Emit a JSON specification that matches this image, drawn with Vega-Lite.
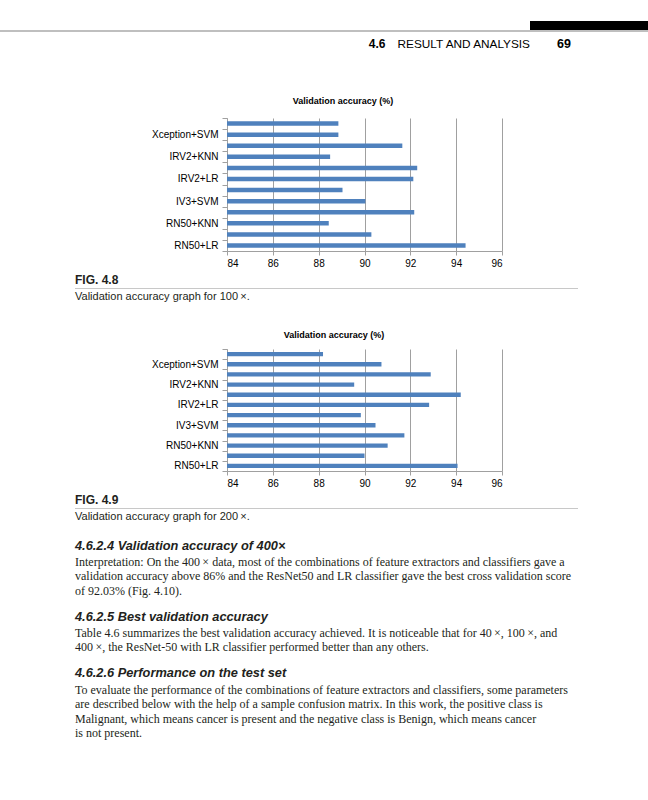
{
  "$schema": "https://vega.github.io/schema/vega-lite/v6.json",
  "background": "white",
  "padding": {"left": 0, "top": 21, "right": 0, "bottom": 58},
  "spacing": 0,
  "bounds": "flush",
  "config": {"view": {"stroke": null}, "font": "Liberation Sans", "text": {"color": "#231f20"}},
  "datasets": {
    "acc": [
      {"mag": "100x", "model": "RN50+LR", "acc": 94.41},
      {"mag": "100x", "model": "RN50+SVM", "acc": 90.30},
      {"mag": "100x", "model": "RN50+KNN", "acc": 88.44},
      {"mag": "100x", "model": "IV3+LR", "acc": 92.17},
      {"mag": "100x", "model": "IV3+SVM", "acc": 90.04},
      {"mag": "100x", "model": "IV3+KNN", "acc": 89.04},
      {"mag": "100x", "model": "IRV2+LR", "acc": 92.13},
      {"mag": "100x", "model": "IRV2+SVM", "acc": 92.30},
      {"mag": "100x", "model": "IRV2+KNN", "acc": 88.50},
      {"mag": "100x", "model": "Xception+LR", "acc": 91.65},
      {"mag": "100x", "model": "Xception+SVM", "acc": 88.86},
      {"mag": "100x", "model": "Xception+KNN", "acc": 88.86},
      {"mag": "200x", "model": "RN50+LR", "acc": 94.06},
      {"mag": "200x", "model": "RN50+SVM", "acc": 90.00},
      {"mag": "200x", "model": "RN50+KNN", "acc": 91.01},
      {"mag": "200x", "model": "IV3+LR", "acc": 91.74},
      {"mag": "200x", "model": "IV3+SVM", "acc": 90.48},
      {"mag": "200x", "model": "IV3+KNN", "acc": 89.84},
      {"mag": "200x", "model": "IRV2+LR", "acc": 92.82},
      {"mag": "200x", "model": "IRV2+SVM", "acc": 94.20},
      {"mag": "200x", "model": "IRV2+KNN", "acc": 89.55},
      {"mag": "200x", "model": "Xception+LR", "acc": 92.89},
      {"mag": "200x", "model": "Xception+SVM", "acc": 90.74},
      {"mag": "200x", "model": "Xception+KNN", "acc": 88.19}
    ],
    "pagetext": [
      {"part": "sec", "line": 0, "text": "4.6"},
      {"part": "run", "line": 0, "text": "RESULT AND ANALYSIS"},
      {"part": "page", "line": 0, "text": "69"},
      {"part": "fig1", "line": 0, "text": "FIG. 4.8"},
      {"part": "cap1", "line": 0, "text": "Validation accuracy graph for 100\u2009×."},
      {"part": "fig2", "line": 0, "text": "FIG. 4.9"},
      {"part": "cap2", "line": 0, "text": "Validation accuracy graph for 200\u2009×."},
      {"part": "h1", "line": 0, "text": "4.6.2.4 Validation accuracy of 400×"},
      {"part": "b1", "line": 0, "text": "Interpretation: On the 400\u2009× data, most of the combinations of feature extractors and classifiers gave a"},
      {"part": "b1", "line": 1, "text": "validation accuracy above 86% and the ResNet50 and LR classifier gave the best cross validation score"},
      {"part": "b1", "line": 2, "text": "of 92.03% (Fig. 4.10)."},
      {"part": "h2", "line": 0, "text": "4.6.2.5 Best validation accuracy"},
      {"part": "b2", "line": 0, "text": "Table 4.6 summarizes the best validation accuracy achieved. It is noticeable that for 40\u2009×, 100\u2009×, and"},
      {"part": "b2", "line": 1, "text": "400\u2009×, the ResNet-50 with LR classifier performed better than any others."},
      {"part": "h3", "line": 0, "text": "4.6.2.6 Performance on the test set"},
      {"part": "b3", "line": 0, "text": "To evaluate the performance of the combinations of feature extractors and classifiers, some parameters"},
      {"part": "b3", "line": 1, "text": "are described below with the help of a sample confusion matrix. In this work, the positive class is"},
      {"part": "b3", "line": 2, "text": "Malignant, which means cancer is present and the negative class is Benign, which means cancer"},
      {"part": "b3", "line": 3, "text": "is not present."}
    ]
  },
  "vconcat": [
    {"width": 648, "height": 9, "data": {"values": [{}]}, "mark": {"type": "rect", "color": "#000000"},
     "encoding": {"x": {"datum": 0, "type": "quantitative", "scale": {"domain": [0, 1], "range": [530, 648]}, "axis": null},
                  "x2": {"datum": 1}}},
    {"width": 648, "height": 2, "data": {"values": [{}]}, "mark": {"type": "rect", "color": "#bfbfbf"}, "encoding": {}},
    {
      "width": 648, "height": 23,
      "data": {"name": "pagetext"},
      "layer": [
        {"transform": [{"filter": "datum.part == 'sec'"}],
         "mark": {"type": "text", "align": "right", "baseline": "middle", "fontSize": 12, "fontWeight": "bold", "color": "#000000"},
         "encoding": {"text": {"field": "text"}, "x": {"datum": 1, "type": "quantitative", "scale": {"domain": [0, 1], "range": [0, 385.5]}, "axis": null}}},
        {"transform": [{"filter": "datum.part == 'run'"}],
         "mark": {"type": "text", "align": "right", "baseline": "middle", "fontSize": 11.8, "color": "#000000"},
         "encoding": {"text": {"field": "text"}, "x": {"datum": 1, "type": "quantitative", "scale": {"domain": [0, 1], "range": [0, 530]}, "axis": null}}},
        {"transform": [{"filter": "datum.part == 'page'"}],
         "mark": {"type": "text", "align": "left", "baseline": "middle", "fontSize": 12.5, "fontWeight": "bold", "color": "#000000"},
         "encoding": {"text": {"field": "text"}, "x": {"datum": 0, "type": "quantitative", "scale": {"domain": [0, 1], "range": [557, 648]}, "axis": null}}}
      ],
      "resolve": {"scale": {"x": "independent"}}
    },
    {"width": 648, "height": 62.5, "data": {"values": []}, "mark": "point"},
    {
      "width": 648, "height": 133,
      "title": {"text": "Validation accuracy (%)", "fontSize": 9, "fontWeight": "bold", "color": "#000000", "anchor": "middle", "baseline": "bottom", "offset": 12, "dx": 19, "dy": 14},
      "data": {"name": "acc"},
      "transform": [{"filter": "datum.mag == '100x'"}],
      "mark": {"type": "bar", "size": 4.5, "color": "#4f81bd"},
      "encoding": {
        "x": {"field": "acc", "type": "quantitative", "scale": {"domain": [84, 96], "nice": false, "zero": false, "range": [227, 502]},
              "axis": {"title": null, "values": [84, 86, 88, 90, 92, 94, 96], "grid": true, "gridColor": "#a0a0a0", "domainColor": "#a0a0a0", "tickColor": "#a0a0a0", "tickSize": 4, "labelFontSize": 10, "labelColor": "#000000", "labelPadding": 3}},
        "x2": {"datum": 84},
        "y": {"field": "model", "type": "nominal",
              "sort": ["Xception+KNN", "Xception+SVM", "Xception+LR", "IRV2+KNN", "IRV2+SVM", "IRV2+LR", "IV3+KNN", "IV3+SVM", "IV3+LR", "RN50+KNN", "RN50+SVM", "RN50+LR"],
              "scale": {"paddingInner": 0, "paddingOuter": 0},
              "axis": {"title": null, "offset": -227, "tickBand": "extent", "tickSize": 5, "tickColor": "#a0a0a0", "domainColor": "#a0a0a0", "labelFontSize": 10, "labelColor": "#000000", "labelPadding": 4,
                       "labelExpr": "indexof(['RN50+LR','RN50+KNN','IV3+SVM','IRV2+LR','IRV2+KNN','Xception+SVM'], datum.value) >= 0 ? datum.value : ''"}}
      }
    },
    {"width": 648, "height": 20, "data": {"values": []}, "mark": "point"},
    {"width": 648, "height": 17, "data": {"name": "pagetext"}, "transform": [{"filter": "datum.part == 'fig1'"}],
     "mark": {"type": "text", "align": "left", "baseline": "middle", "fontSize": 12, "fontWeight": "bold"},
     "encoding": {"text": {"field": "text"}, "x": {"datum": 0, "type": "quantitative", "scale": {"domain": [0, 1], "range": [75, 578]}, "axis": null}}},
    {"width": 648, "height": 1, "data": {"values": [{}]}, "mark": {"type": "rect", "color": "#c8c8c8"},
     "encoding": {"x": {"datum": 0, "type": "quantitative", "scale": {"domain": [0, 1], "range": [75, 578]}, "axis": null}, "x2": {"datum": 1}}},
    {"width": 648, "height": 16, "data": {"name": "pagetext"}, "transform": [{"filter": "datum.part == 'cap1'"}],
     "mark": {"type": "text", "align": "left", "baseline": "middle", "fontSize": 11},
     "encoding": {"text": {"field": "text"}, "x": {"datum": 0, "type": "quantitative", "scale": {"domain": [0, 1], "range": [75, 578]}, "axis": null}}},
    {"width": 648, "height": 43.5, "data": {"values": []}, "mark": "point"},
    {
      "width": 648, "height": 122,
      "title": {"text": "Validation accuracy (%)", "fontSize": 9, "fontWeight": "bold", "color": "#000000", "anchor": "middle", "baseline": "bottom", "offset": 8.7, "dx": 10, "dy": 14},
      "data": {"name": "acc"},
      "transform": [{"filter": "datum.mag == '200x'"}],
      "mark": {"type": "bar", "size": 4.3, "color": "#4f81bd"},
      "encoding": {
        "x": {"field": "acc", "type": "quantitative", "scale": {"domain": [84, 96], "nice": false, "zero": false, "range": [227, 502]},
              "axis": {"title": null, "values": [84, 86, 88, 90, 92, 94, 96], "grid": true, "gridColor": "#a0a0a0", "domainColor": "#a0a0a0", "tickColor": "#a0a0a0", "tickSize": 4, "labelFontSize": 10, "labelColor": "#000000", "labelPadding": 3}},
        "x2": {"datum": 84},
        "y": {"field": "model", "type": "nominal",
              "sort": ["Xception+KNN", "Xception+SVM", "Xception+LR", "IRV2+KNN", "IRV2+SVM", "IRV2+LR", "IV3+KNN", "IV3+SVM", "IV3+LR", "RN50+KNN", "RN50+SVM", "RN50+LR"],
              "scale": {"paddingInner": 0, "paddingOuter": 0},
              "axis": {"title": null, "offset": -227, "tickBand": "extent", "tickSize": 5, "tickColor": "#a0a0a0", "domainColor": "#a0a0a0", "labelFontSize": 10, "labelColor": "#000000", "labelPadding": 4,
                       "labelExpr": "indexof(['RN50+LR','RN50+KNN','IV3+SVM','IRV2+LR','IRV2+KNN','Xception+SVM'], datum.value) >= 0 ? datum.value : ''"}}
      }
    },
    {"width": 648, "height": 20, "data": {"values": []}, "mark": "point"},
    {"width": 648, "height": 17, "data": {"name": "pagetext"}, "transform": [{"filter": "datum.part == 'fig2'"}],
     "mark": {"type": "text", "align": "left", "baseline": "middle", "fontSize": 12, "fontWeight": "bold"},
     "encoding": {"text": {"field": "text"}, "x": {"datum": 0, "type": "quantitative", "scale": {"domain": [0, 1], "range": [75, 578]}, "axis": null}}},
    {"width": 648, "height": 1, "data": {"values": [{}]}, "mark": {"type": "rect", "color": "#c8c8c8"},
     "encoding": {"x": {"datum": 0, "type": "quantitative", "scale": {"domain": [0, 1], "range": [75, 578]}, "axis": null}, "x2": {"datum": 1}}},
    {"width": 648, "height": 16, "data": {"name": "pagetext"}, "transform": [{"filter": "datum.part == 'cap2'"}],
     "mark": {"type": "text", "align": "left", "baseline": "middle", "fontSize": 11},
     "encoding": {"text": {"field": "text"}, "x": {"datum": 0, "type": "quantitative", "scale": {"domain": [0, 1], "range": [75, 578]}, "axis": null}}},
    {"width": 648, "height": 12, "data": {"values": []}, "mark": "point"},
    {"width": 648, "height": 18, "data": {"name": "pagetext"}, "transform": [{"filter": "datum.part == 'h1'"}],
     "mark": {"type": "text", "align": "left", "baseline": "middle", "fontSize": 12.8, "fontWeight": "bold", "fontStyle": "italic"},
     "encoding": {"text": {"field": "text"}, "x": {"datum": 0, "type": "quantitative", "scale": {"domain": [0, 1], "range": [75, 578]}, "axis": null}}},
    {"width": 648, "height": 42.9, "data": {"name": "pagetext"}, "transform": [{"filter": "datum.part == 'b1'"}],
     "mark": {"type": "text", "align": "left", "baseline": "middle", "fontSize": 12, "font": "Liberation Serif"},
     "encoding": {"text": {"field": "text"}, "x": {"datum": 0, "type": "quantitative", "scale": {"domain": [0, 1], "range": [75, 578]}, "axis": null},
                  "y": {"field": "line", "type": "ordinal", "axis": null, "scale": {"type": "point", "padding": 0.5}}}},
    {"width": 648, "height": 8.4, "data": {"values": []}, "mark": "point"},
    {"width": 648, "height": 19, "data": {"name": "pagetext"}, "transform": [{"filter": "datum.part == 'h2'"}],
     "mark": {"type": "text", "align": "left", "baseline": "middle", "fontSize": 12.8, "fontWeight": "bold", "fontStyle": "italic"},
     "encoding": {"text": {"field": "text"}, "x": {"datum": 0, "type": "quantitative", "scale": {"domain": [0, 1], "range": [75, 578]}, "axis": null}}},
    {"width": 648, "height": 28.6, "data": {"name": "pagetext"}, "transform": [{"filter": "datum.part == 'b2'"}],
     "mark": {"type": "text", "align": "left", "baseline": "middle", "fontSize": 12, "font": "Liberation Serif"},
     "encoding": {"text": {"field": "text"}, "x": {"datum": 0, "type": "quantitative", "scale": {"domain": [0, 1], "range": [75, 578]}, "axis": null},
                  "y": {"field": "line", "type": "ordinal", "axis": null, "scale": {"type": "point", "padding": 0.5}}}},
    {"width": 648, "height": 7.4, "data": {"values": []}, "mark": "point"},
    {"width": 648, "height": 20, "data": {"name": "pagetext"}, "transform": [{"filter": "datum.part == 'h3'"}],
     "mark": {"type": "text", "align": "left", "baseline": "middle", "fontSize": 12.8, "fontWeight": "bold", "fontStyle": "italic"},
     "encoding": {"text": {"field": "text"}, "x": {"datum": 0, "type": "quantitative", "scale": {"domain": [0, 1], "range": [75, 578]}, "axis": null}}},
    {"width": 648, "height": 57.2, "data": {"name": "pagetext"}, "transform": [{"filter": "datum.part == 'b3'"}],
     "mark": {"type": "text", "align": "left", "baseline": "middle", "fontSize": 12, "font": "Liberation Serif"},
     "encoding": {"text": {"field": "text"}, "x": {"datum": 0, "type": "quantitative", "scale": {"domain": [0, 1], "range": [75, 578]}, "axis": null},
                  "y": {"field": "line", "type": "ordinal", "axis": null, "scale": {"type": "point", "padding": 0.5}}}}
  ]
}
